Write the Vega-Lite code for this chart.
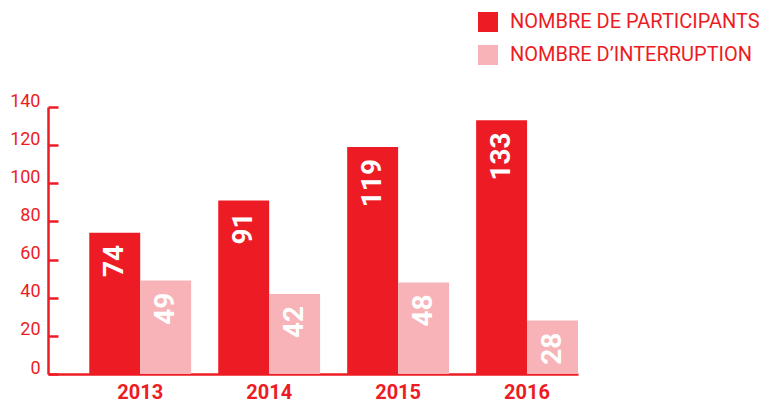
{
  "$schema": "https://vega.github.io/schema/vega-lite/v6.json",
  "width": 530,
  "height": 267,
  "autosize": "none",
  "padding": {"left": 48, "top": 107, "right": 187, "bottom": 31},
  "background": "white",
  "config": {"view": {"stroke": null}, "font": "Roboto"},
  "data": {
    "values": [
      {"year": "2013", "series": "NOMBRE DE PARTICIPANTS", "value": 74},
      {"year": "2013", "series": "NOMBRE D’INTERRUPTION", "value": 49},
      {"year": "2014", "series": "NOMBRE DE PARTICIPANTS", "value": 91},
      {"year": "2014", "series": "NOMBRE D’INTERRUPTION", "value": 42},
      {"year": "2015", "series": "NOMBRE DE PARTICIPANTS", "value": 119},
      {"year": "2015", "series": "NOMBRE D’INTERRUPTION", "value": 48},
      {"year": "2016", "series": "NOMBRE DE PARTICIPANTS", "value": 133},
      {"year": "2016", "series": "NOMBRE D’INTERRUPTION", "value": 28}
    ]
  },
  "encoding": {
    "x": {
      "field": "year", "type": "nominal",
      "scale": {"paddingInner": 0.21, "paddingOuter": 0.16, "align": 1},
      "axis": {
        "title": null, "labelAngle": 0, "ticks": false,
        "domainColor": "#ED1C24", "domainWidth": 2.5,
        "labelColor": "#ED1C24", "labelFont": "Roboto", "labelFontWeight": "bold",
        "labelFontSize": 20, "labelPadding": 8
      }
    },
    "xOffset": {
      "field": "series", "type": "nominal",
      "sort": ["NOMBRE DE PARTICIPANTS", "NOMBRE D’INTERRUPTION"],
      "scale": {"paddingInner": 0, "paddingOuter": 0}
    },
    "y": {
      "field": "value", "type": "quantitative",
      "scale": {"domain": [0, 140], "nice": false},
      "axis": {
        "title": null, "values": [0, 20, 40, 60, 80, 100, 120, 140], "grid": false,
        "domainColor": "#ED1C24", "domainWidth": 2.5,
        "tickColor": "#ED1C24", "tickWidth": 2.5, "tickSize": -10,
        "labelColor": "#ED1C24", "labelFontSize": 18, "labelPadding": 18,
        "labelOffset": -6
      }
    }
  },
  "layer": [
    {
      "mark": {"type": "bar"},
      "encoding": {
        "color": {
          "field": "series", "type": "nominal",
          "sort": ["NOMBRE DE PARTICIPANTS", "NOMBRE D’INTERRUPTION"],
          "scale": {"domain": ["NOMBRE DE PARTICIPANTS", "NOMBRE D’INTERRUPTION"], "range": ["#ED1C24", "#F7B3B7"]},
          "legend": {
            "title": null, "orient": "none", "legendX": 430, "legendY": -95,
            "symbolType": "square", "symbolSize": 400, "symbolStrokeWidth": 0,
            "symbolOpacity": 1, "labelLimit": 400,
            "labelColor": "#ED1C24", "labelFontSize": 20, "labelOffset": 12,
            "rowPadding": 13
          }
        }
      }
    },
    {
      "mark": {
        "type": "text", "color": "white", "angle": 270, "align": "right",
        "baseline": "middle", "dx": -12, "fontSize": 28, "fontWeight": "bold"
      },
      "encoding": {
        "text": {"field": "value", "type": "quantitative"}
      }
    }
  ]
}
